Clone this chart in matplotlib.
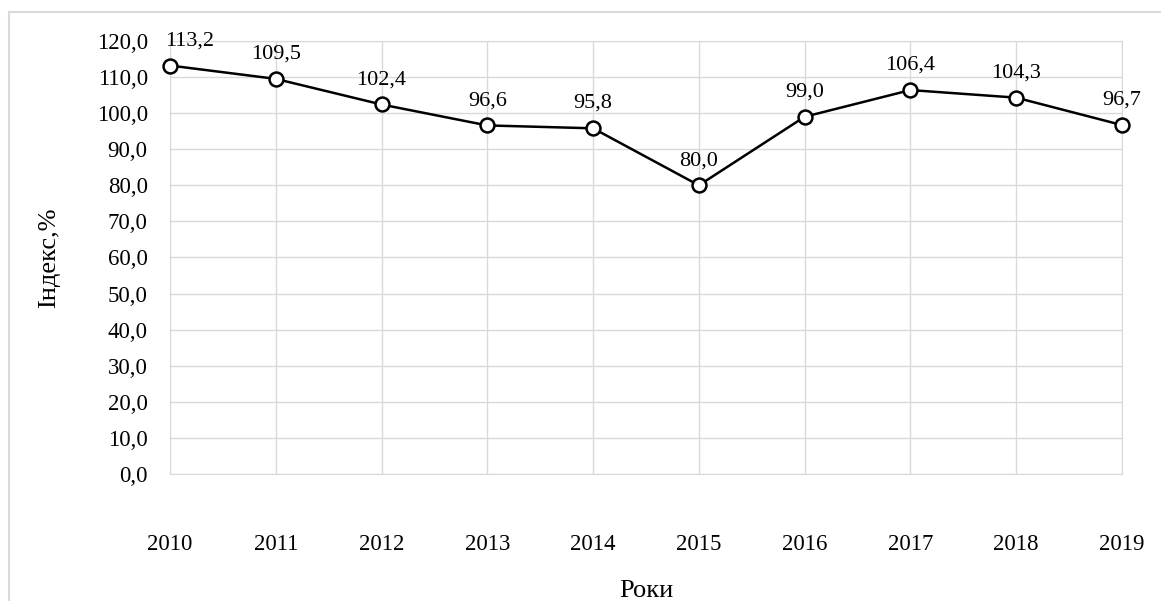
import numpy as np
import matplotlib.pyplot as plt
from matplotlib.patches import Rectangle

years = [2010, 2011, 2012, 2013, 2014, 2015, 2016, 2017, 2018, 2019]
index_pct = [113.2, 109.5, 102.4, 96.6, 95.8, 80.0, 99.0, 106.4, 104.3, 96.7]
y_ticks = np.arange(0, 121, 10)

plt.rcParams['font.family'] = ['Liberation Serif', 'DejaVu Serif']

fig = plt.figure(figsize=(11.61, 6.01), dpi=100)
ax = fig.add_axes([0.1464, 0.2113, 0.82, 0.7205])

# outer chart border
fig.patches.append(Rectangle((0.008, -0.01), 1.0, 0.99, transform=fig.transFigure,
                             fill=False, edgecolor='#d9d9d9', lw=1.5))

ax.plot(years, index_pct, '-o', color='black', lw=1.8, ms=10,
        mfc='white', mec='black', mew=1.8, zorder=3, clip_on=False)

for x, y in zip(years, index_pct):
    dx = 14 if x == years[0] else 0
    ax.annotate(f"{y:.1f}".replace('.', ','), (x, y), xytext=(dx, 11),
                textcoords='offset points', ha='center', va='bottom', fontsize=16)

ax.set_xlim(years[0], years[-1])
ax.set_ylim(0, 120)
ax.set_xticks(years)
ax.set_yticks(y_ticks)
ax.set_yticklabels([f"{v:.1f}".replace('.', ',') for v in y_ticks])
ax.tick_params(length=0, labelsize=16.5)
ax.tick_params(axis='y', pad=16)
ax.tick_params(axis='x', pad=43)
ax.grid(True, color='#d9d9d9', lw=1)
for s in ax.spines.values():
    s.set_color('#d9d9d9')

ax.set_ylabel("Індекс,%", fontsize=19, labelpad=26)
ax.set_xlabel("Роки", fontsize=19, labelpad=18)

plt.savefig("out.png", dpi=100)
